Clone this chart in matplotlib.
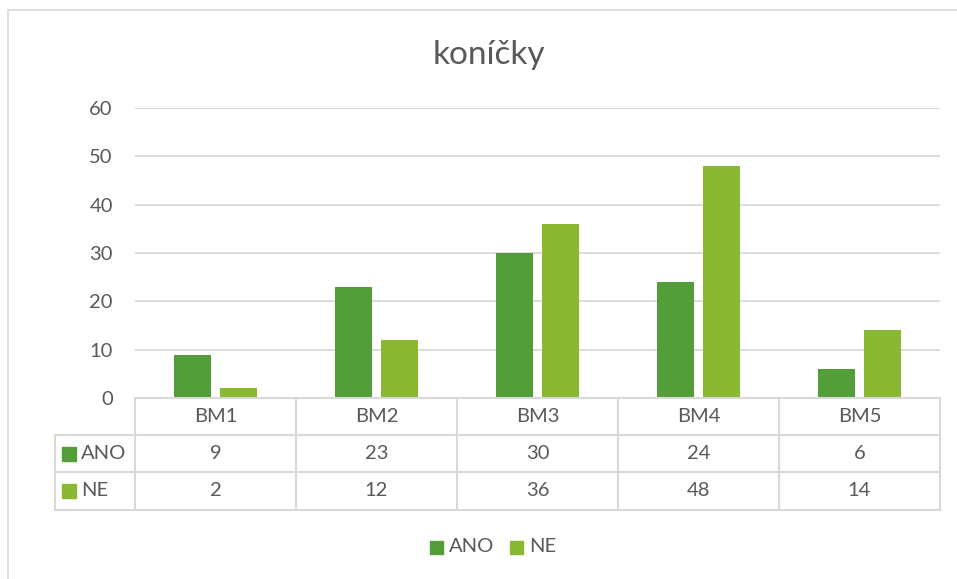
import matplotlib.pyplot as plt
from matplotlib.patches import Rectangle
import numpy as np

categories = ['BM1', 'BM2', 'BM3', 'BM4', 'BM5']
series_names = ['ANO', 'NE']
ano = [9, 23, 30, 24, 6]
ne = [2, 12, 36, 48, 14]
colors = ['#549E39', '#8AB833']
title = 'koníčky'

W, H = 957, 579
plt.rcParams['font.family'] = ['Lato', 'DejaVu Sans']
text_color = '#595959'
line_color = '#D9D9D9'


def fx(px):
    return px / W


def fy(py):
    return 1 - py / H


fig = plt.figure(figsize=(W / 100, H / 100), dpi=100)

# chart area border
fig.add_artist(Rectangle((fx(8), fy(H + 10)), 2, fy(10) - fy(H + 10),
                         transform=fig.transFigure, fill=False,
                         edgecolor=line_color, linewidth=1.2))

# plot area
x0, x1, y_top, y_bot = 135, 940, 108, 398
ax = fig.add_axes([fx(x0), fy(y_bot), fx(x1) - fx(x0), fy(y_top) - fy(y_bot)])

x = np.arange(len(categories))
bw = 0.224
off = 0.143
ax.bar(x - off, ano, bw, color=colors[0], zorder=3)
ax.bar(x + off, ne, bw, color=colors[1], zorder=3)

ax.set_xlim(-0.5, len(categories) - 0.5)
ax.set_ylim(0, 60)
ax.set_yticks(range(0, 61, 10))
ax.yaxis.grid(True, color=line_color, linewidth=1.3)
ax.set_axisbelow(True)
ax.tick_params(axis='y', length=0, pad=16, labelsize=14.5, labelcolor=text_color)
ax.tick_params(axis='x', length=0, labelbottom=False)
for s in ax.spines.values():
    s.set_visible(False)

fig.text(fx(489), fy(55), title, ha='center', va='center', fontsize=24, color=text_color)

# data table below the plot
col_edges = np.linspace(x0, x1, len(categories) + 1)
row_edges = [398, 435, 472, 510]
label_left = 55
lw = 1.5


def hline(y, xa, xb):
    fig.add_artist(plt.Line2D([fx(xa), fx(xb)], [fy(y), fy(y)],
                              transform=fig.transFigure, color=line_color, linewidth=lw))


def vline(xp, ya, yb):
    fig.add_artist(plt.Line2D([fx(xp), fx(xp)], [fy(ya), fy(yb)],
                              transform=fig.transFigure, color=line_color, linewidth=lw))


hline(row_edges[0], x0, x1)
for r in row_edges[1:]:
    hline(r, label_left, x1)
for c in col_edges:
    vline(c, row_edges[0], row_edges[-1])
vline(label_left, row_edges[1], row_edges[-1])

fs = 14.5
centers = (col_edges[:-1] + col_edges[1:]) / 2
for cx, cat in zip(centers, categories):
    fig.text(fx(cx), fy((row_edges[0] + row_edges[1]) / 2), cat,
             ha='center', va='center', fontsize=fs, color=text_color)

for i, (name, vals) in enumerate(zip(series_names, [ano, ne])):
    cy = (row_edges[i + 1] + row_edges[i + 2]) / 2
    fig.add_artist(Rectangle((fx(62), fy(cy + 7)), fx(14), fy(cy - 7) - fy(cy + 7),
                             transform=fig.transFigure, color=colors[i]))
    fig.text(fx(81), fy(cy), name, ha='left', va='center', fontsize=fs, color=text_color)
    for cx, v in zip(centers, vals):
        fig.text(fx(cx), fy(cy), str(v), ha='center', va='center',
                 fontsize=fs, color=text_color)

# legend
ly = 547
for name, col, lx in zip(series_names, colors, [430, 510]):
    fig.add_artist(Rectangle((fx(lx), fy(ly + 6.5)), fx(13), fy(ly - 6.5) - fy(ly + 6.5),
                             transform=fig.transFigure, color=col))
    fig.text(fx(lx + 19), fy(ly), name, ha='left', va='center', fontsize=fs, color=text_color)

fig.savefig('out.png', dpi=100, facecolor='white')
